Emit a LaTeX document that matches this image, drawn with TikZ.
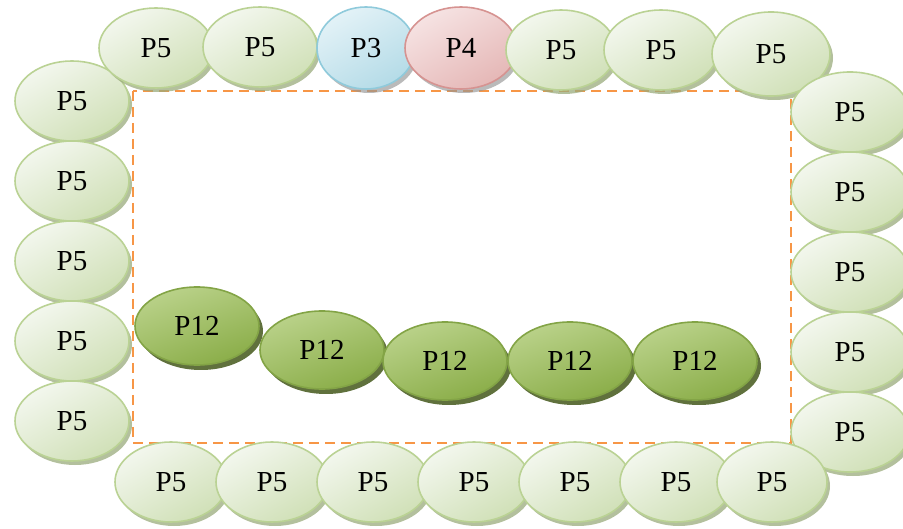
\documentclass[tikz,border=0pt]{standalone}
\usepackage{fontspec}
\setmainfont{Liberation Serif}
\usetikzlibrary{shapes.geometric,shadows}

\definecolor{frameorange}{HTML}{F79646}
\definecolor{pfiveA}{HTML}{F3F7EE}
\definecolor{pfiveB}{HTML}{D0E0B7}
\definecolor{pfiveEdge}{HTML}{BAD294}
\definecolor{pfiveShadow}{HTML}{9AAB7C}
\definecolor{pthreeA}{HTML}{E3F2F7}
\definecolor{pthreeB}{HTML}{B4DBE7}
\definecolor{pthreeEdge}{HTML}{8FCADB}
\definecolor{pfourA}{HTML}{F6E3E3}
\definecolor{pfourB}{HTML}{E5B7B6}
\definecolor{pfourEdge}{HTML}{D69391}
\definecolor{ptwelveA}{HTML}{BAD28A}
\definecolor{ptwelveB}{HTML}{8AAD48}
\definecolor{ptwelveEdge}{HTML}{83A446}
\definecolor{ptwelveShadow}{HTML}{4F6228}
\definecolor{shadowGray}{HTML}{959595}

\tikzset{
  cell/.style={ellipse, inner sep=0pt, line width=1.6pt,
    minimum width=114pt, minimum height=80pt,
    font=\fontsize{29}{32}\selectfont, text=black},
  pfive/.style={cell, draw=pfiveEdge,
    top color=pfiveA, bottom color=pfiveB, shading angle=30,
    drop shadow={shadow xshift=3pt, shadow yshift=-4pt, fill=pfiveShadow, opacity=0.75}},
  pthree/.style={cell, draw=pthreeEdge, minimum width=98pt, minimum height=82pt,
    top color=pthreeA, bottom color=pthreeB, shading angle=30,
    drop shadow={shadow xshift=3pt, shadow yshift=-4pt, fill=shadowGray, opacity=0.65}},
  pfour/.style={cell, draw=pfourEdge, minimum width=112pt, minimum height=82pt,
    top color=pfourA, bottom color=pfourB, shading angle=30,
    drop shadow={shadow xshift=3pt, shadow yshift=-4pt, fill=shadowGray, opacity=0.65}},
  ptwelve/.style={cell, draw=ptwelveEdge, minimum width=124pt, minimum height=78pt,
    top color=ptwelveA, bottom color=ptwelveB, shading angle=20,
    drop shadow={shadow xshift=4pt, shadow yshift=-5pt, fill=ptwelveShadow, opacity=0.9}},
  framebox/.style={draw=frameorange, line width=2.4pt, dash pattern=on 10pt off 6pt}
}

\begin{document}
\begin{tikzpicture}[x=1pt, y=-1pt]
  \useasboundingbox (0,0) rectangle (903,529);

  % dashed frame
  \coordinate (frameNW) at (133,91);
  \coordinate (frameSE) at (791,443);
  \draw[framebox] (frameNW) rectangle (frameSE);

  % left column
  \node[pfive] (l1) at (72,101) {P5};
  \node[pfive] (l2) at (72,181) {P5};
  \node[pfive] (l3) at (72,261) {P5};
  \node[pfive] (l4) at (72,341) {P5};
  \node[pfive] (l5) at (72,421) {P5};

  % top row
  \node[pfive]  (t1) at (156,48) {P5};
  \node[pfive]  (t2) at (260,47) {P5};
  \node[pthree] (t3) at (366,48) {P3};
  \node[pfour]  (t4) at (461,48) {P4};
  \node[pfive, minimum width=110pt] (t5) at (561,50) {P5};
  \node[pfive]  (t6) at (661,50) {P5};
  \node[pfive, minimum width=118pt, minimum height=84pt] (t7) at (771,54) {P5};

  % right column
  \node[pfive, minimum width=118pt] (r1) at (850,112) {P5};
  \node[pfive, minimum width=118pt] (r2) at (850,192) {P5};
  \node[pfive, minimum width=118pt] (r3) at (850,272) {P5};
  \node[pfive, minimum width=118pt] (r4) at (850,352) {P5};
  \node[pfive, minimum width=118pt] (r5) at (850,432) {P5};

  % bottom row
  \node[pfive, minimum width=112pt] (b1) at (171,482) {P5};
  \node[pfive, minimum width=112pt] (b2) at (272,482) {P5};
  \node[pfive, minimum width=112pt] (b3) at (373,482) {P5};
  \node[pfive, minimum width=112pt] (b4) at (474,482) {P5};
  \node[pfive, minimum width=112pt] (b5) at (575,482) {P5};
  \node[pfive, minimum width=112pt] (b6) at (676,482) {P5};
  \node[pfive, minimum width=110pt] (b7) at (772,482) {P5};

  % inner row
  \node[ptwelve] (m1) at (197,326) {P12};
  \node[ptwelve] (m2) at (322,350) {P12};
  \node[ptwelve] (m3) at (445,361) {P12};
  \node[ptwelve] (m4) at (570,361) {P12};
  \node[ptwelve] (m5) at (695,361) {P12};
\end{tikzpicture}
\end{document}
